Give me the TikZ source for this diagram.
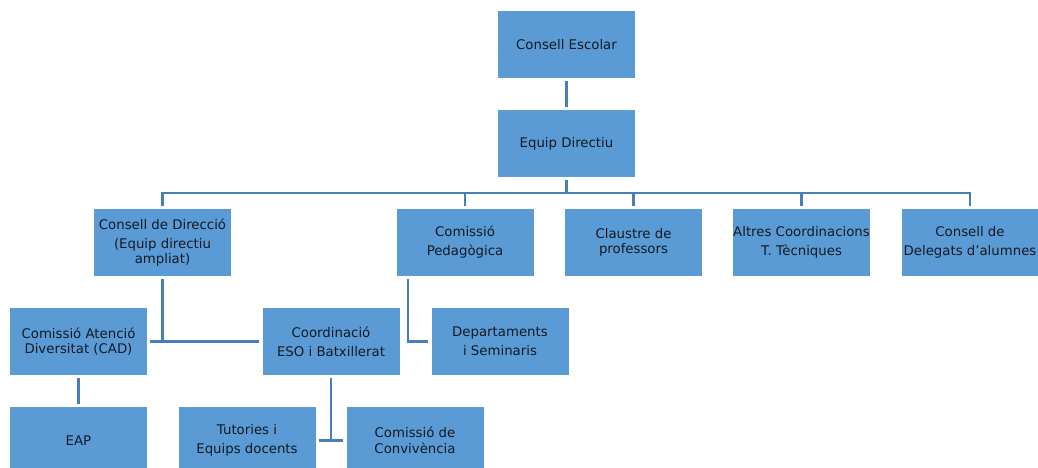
\documentclass[tikz,border=0pt]{standalone}
\usepackage{fontspec}
\setmainfont{DejaVu Sans}
\definecolor{boxblue}{HTML}{5B9BD5}
\definecolor{linecol}{HTML}{4A7EBB}
\definecolor{txt}{HTML}{141A24}
\begin{document}
\begin{tikzpicture}[x=1pt,y=-1pt,
  orgbox/.style={fill=boxblue,draw=none,minimum width=137pt,minimum height=67pt,inner sep=0pt,
    align=center,text=txt,font=\fontsize{13.3}{15.5}\selectfont},
  conn/.style={draw=linecol,line width=2.2pt}]
\useasboundingbox (0,0) rectangle (1038,468);
% row 1-2
\node[orgbox] (ce) at (566.5,44.5) {Consell Escolar};
\node[orgbox] (ed) at (566.5,143.5) {Equip Directiu};
% row 3
\node[orgbox] (cd) at (162.5,242.5) {Consell de Direcció\\[3.5pt](Equip directiu\\ampliat)};
\node[orgbox] (cp) at (465,242.5) {Comissió\\[3.5pt]Pedagògica};
\node[orgbox] (cl) at (633.5,242.5) {Claustre de\\professors};
\node[orgbox] (al) at (801.5,242.5) {Altres Coordinacions\\[3.5pt]T. Tècniques};
\node[orgbox] (dl) at (970,242.5) {Consell de\\[3pt]Delegats d’alumnes};
% row 4
\node[orgbox] (cad) at (78.5,341.5) {Comissió Atenció\\Diversitat (CAD)};
\node[orgbox] (co) at (331,341.5) {Coordinació\\[3.5pt]ESO i Batxillerat};
\node[orgbox] (dp) at (500,341.5) {Departaments\\[3.5pt]i Seminaris};
% row 5
\node[orgbox] (eap) at (78.5,440.5) {EAP};
\node[orgbox] (tu) at (247,440.5) {Tutories i\\[3.5pt]Equips docents};
\node[orgbox] (cv) at (415,440.5) {Comissió de\\Convivència};
% connectors
\coordinate (bus) at (0,193);
\draw[conn] ([yshift=-3pt]ce.south) -- ([yshift=3pt]ed.north);
\draw[conn] ([yshift=-3pt]ed.south) -- (ed.south |- bus);
\draw[conn] ([yshift=3pt]cd.north) -- (cd.north |- bus) -- (dl.north |- bus) -- ([yshift=3pt]dl.north);
\draw[conn] (cp.north |- bus) -- ([yshift=3pt]cp.north);
\draw[conn] (cl.north |- bus) -- ([yshift=3pt]cl.north);
\draw[conn] (al.north |- bus) -- ([yshift=3pt]al.north);
\draw[conn] ([yshift=-3pt]cd.south) -- (cd.south |- cad.east);
\draw[conn] ([xshift=3pt]cad.east) -- ([xshift=-3pt]co.west);
\draw[conn] ([xshift=12pt,yshift=-3pt]cp.south west) |- ([xshift=-3pt]dp.west);
\draw[conn] ([yshift=-3pt]cad.south) -- ([yshift=3pt]eap.north);
\draw[conn] ([yshift=-3pt]co.south) -- (co.south |- tu.east);
\draw[conn] ([xshift=3pt]tu.east) -- ([xshift=-3pt]cv.west);
\end{tikzpicture}
\end{document}
